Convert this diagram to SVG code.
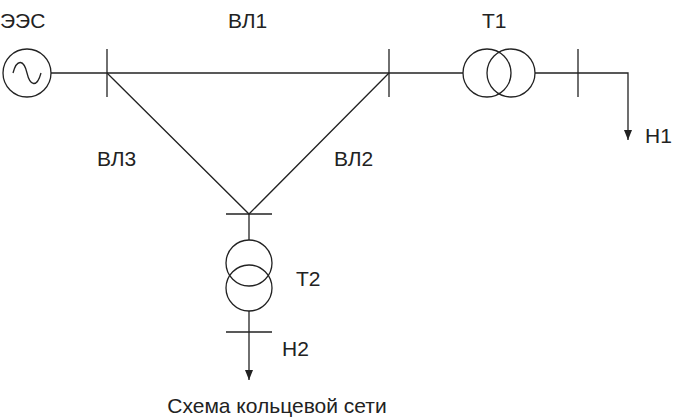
<svg xmlns="http://www.w3.org/2000/svg" width="675" height="420" viewBox="0 0 675 420">
<style>
.l{stroke:#222;stroke-width:1.3;fill:none}
.t{font-family:"Liberation Sans",Arial,sans-serif;font-size:21px;fill:#222}
</style>
<rect width="675" height="420" fill="#fff"/>
<g id="connectors" class="l">
<path d="M51,73 H463"/>
<path d="M535,73 H628 V140"/>
<path d="M107,73 L249,214 L389,73"/>
<path d="M249,214 V240"/>
<path d="M249,311 V380"/>
</g>
<path d="M624,130 L632,130 L628,140Z" fill="#222"/>
<path d="M245,370 L253,370 L249,380Z" fill="#222"/>
<g id="gen" class="l"><circle cx="27" cy="73" r="24"/><path d="M13,73 C17,58 24,60 27,73 C30,86 37,88 41,73"/></g>
<g id="bus1" class="l"><path d="M107,49 V97"/></g>
<g id="bus2" class="l"><path d="M389,49 V97"/></g>
<g id="bus3" class="l"><path d="M578,49 V97"/></g>
<g id="bus4" class="l"><path d="M226,214 H272"/></g>
<g id="bus5" class="l"><path d="M226,332 H272"/></g>
<g id="T1" class="l"><circle cx="487" cy="73" r="24"/><circle cx="511" cy="73" r="24"/></g>
<g id="T2" class="l"><circle cx="249" cy="263" r="23"/><circle cx="249" cy="288" r="23"/></g>
<g class="t">
<text x="0" y="28">ЭЭС</text>
<text x="228" y="28">ВЛ1</text>
<text x="482" y="28">Т1</text>
<text x="645" y="143">Н1</text>
<text x="97" y="166">ВЛ3</text>
<text x="334" y="166">ВЛ2</text>
<text x="296" y="286">Т2</text>
<text x="282" y="356">Н2</text>
<text x="277" y="413" text-anchor="middle">Схема кольцевой сети</text>
</g>
</svg>
